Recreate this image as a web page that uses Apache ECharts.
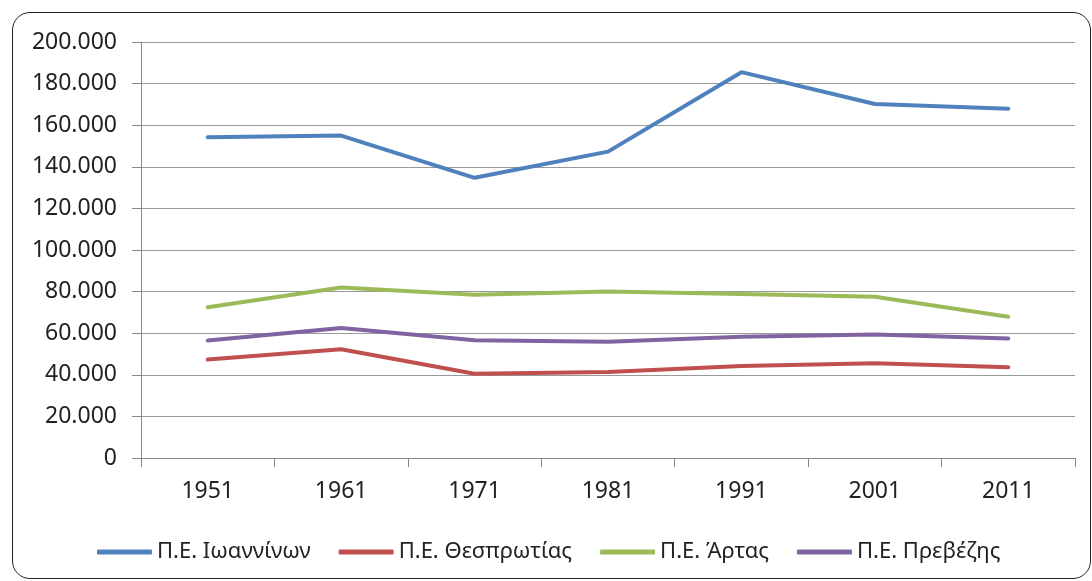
<!DOCTYPE html>
<html>
<head>
<meta charset="utf-8">
<script src="https://cdn.jsdelivr.net/npm/echarts@6/dist/echarts.min.js"></script>
<style>
	html, body { margin: 0; padding: 0; background: #fff; }
	#frame {
		position: absolute; left: 12px; top: 12px; width: 1079px; height: 567px;
		border: 1px solid #222; border-radius: 18px; box-sizing: border-box;
	}
	#chart { position: absolute; left: 0; top: 0; width: 1092px; height: 581px; }
</style>
</head>
<body>
<div id="frame"></div>
<div id="chart"></div>
<script>
	// 数据
	var years = ['1951', '1961', '1971', '1981', '1991', '2001', '2011'];
	var ioannina = [154200, 155000, 134700, 147300, 185500, 170200, 167900];
	var thesprotia = [47300, 52300, 40500, 41300, 44200, 45500, 43600];
	var arta = [72500, 82000, 78500, 80000, 78900, 77500, 67900];
	var preveza = [56500, 62500, 56600, 55900, 58300, 59400, 57500];
	var seriesNames = ['Π.Ε. Ιωαννίνων', 'Π.Ε. Θεσπρωτίας', 'Π.Ε. Άρτας', 'Π.Ε. Πρεβέζης'];
	var colors = ['#4F81BD', '#C0504D', '#9BBB59', '#8064A2'];

	var fontFam = '"Noto Sans", "Open Sans", sans-serif';

	function makeLine(name, data, color) {
		return {
			name: name,
			type: 'line',
			data: data,
			symbol: 'none',
			color: color,
			lineStyle: { width: 4, color: color, cap: 'round', join: 'round' }
		};
	}

	var option = {
		animation: false,
		grid: { left: 141, right: 17, top: 42, bottom: 123 },
		legend: {
			left: 92,
			top: 536,
			itemWidth: 55,
			itemHeight: 5,
			itemGap: 28,
			icon: 'roundRect',
			textStyle: { fontSize: 22, color: '#222', fontFamily: fontFam },
			data: seriesNames
		},
		xAxis: {
			type: 'category',
			data: years,
			boundaryGap: true,
			axisLine: { lineStyle: { color: '#888', width: 1 } },
			axisTick: { show: true, length: 9, inside: false, lineStyle: { color: '#888' } },
			axisLabel: { fontSize: 23, color: '#222', fontFamily: fontFam, margin: 22 }
		},
		yAxis: {
			type: 'value',
			min: 0,
			max: 200000,
			interval: 20000,
			axisLine: { show: true, lineStyle: { color: '#888', width: 1 } },
			axisTick: { show: true, length: 9, lineStyle: { color: '#888' } },
			splitLine: { lineStyle: { color: '#999', width: 1 } },
			axisLabel: {
				fontSize: 23, color: '#222', fontFamily: fontFam, margin: 24,
				formatter: function(v) {
					return v === 0 ? '0' : String(v).replace(/\B(?=(\d{3})+(?!\d))/g, '.');
				}
			}
		},
		series: [
			makeLine(seriesNames[0], ioannina, colors[0]),
			makeLine(seriesNames[1], thesprotia, colors[1]),
			makeLine(seriesNames[2], arta, colors[2]),
			makeLine(seriesNames[3], preveza, colors[3])
		]
	};

	echarts.init(document.getElementById('chart')).setOption(option);
</script>
</body>
</html>
